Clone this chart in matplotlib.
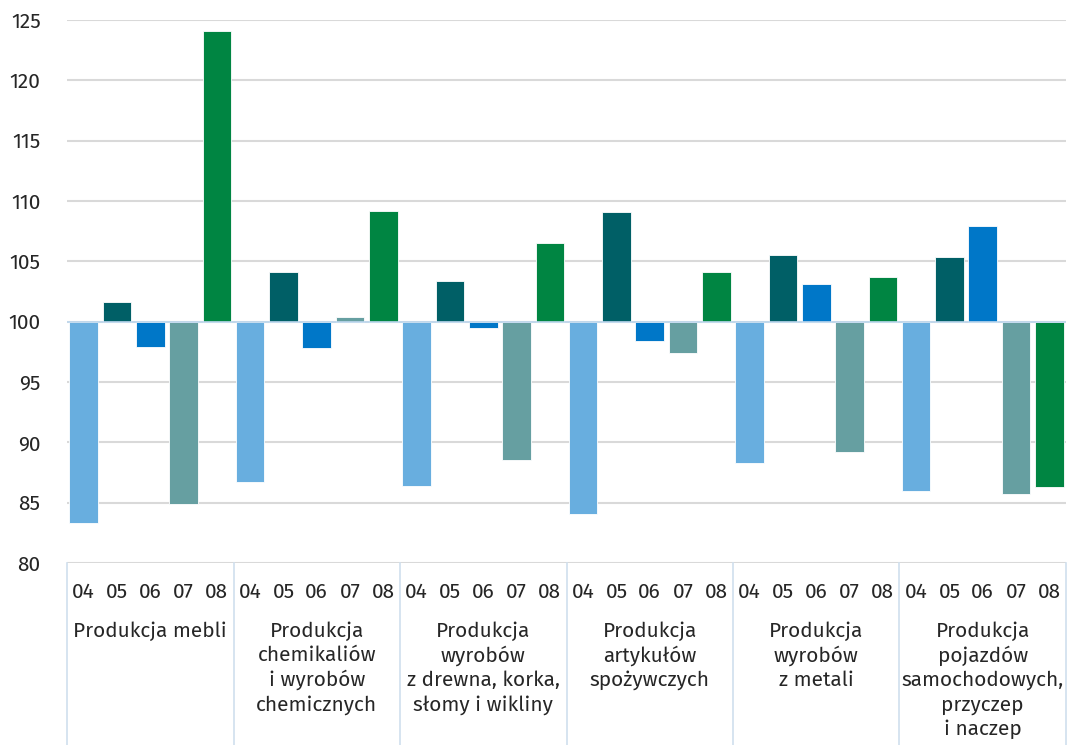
import matplotlib
matplotlib.use("Agg")
import matplotlib.pyplot as plt
import numpy as np

plt.rcParams['font.family'] = ['Fira Sans', 'DejaVu Sans']

groups = [
    "Produkcja mebli",
    "Produkcja\nchemikaliów\ni wyrobów\nchemicznych",
    "Produkcja\nwyrobów\nz drewna, korka,\nsłomy i wikliny",
    "Produkcja\nartykułów\nspożywczych",
    "Produkcja\nwyrobów\nz metali",
    "Produkcja\npojazdów\nsamochodowych,\nprzyczep\ni naczep",
]
months = ["04", "05", "06", "07", "08"]
v04 = [83.3, 86.7, 86.4, 84.1, 88.3, 86.0]
v05 = [101.6, 104.1, 103.4, 109.1, 105.5, 105.4]
v06 = [97.9, 97.8, 99.5, 98.4, 103.1, 107.9]
v07 = [84.9, 100.4, 88.5, 97.4, 89.2, 85.7]
v08 = [124.1, 109.2, 106.5, 104.1, 103.7, 86.3]
series = [v04, v05, v06, v07, v08]
colors = ["#68AEDF", "#005F66", "#0077C8", "#669FA1", "#008542"]

W, H = 1067, 745
fig = plt.figure(figsize=(W / 100, H / 100), dpi=100)
ax = fig.add_axes([67 / W, 1 - 563 / H, (1066 - 67) / W, (563 - 20) / H])

n = len(groups)
for gi in range(n):
    for si, s in enumerate(series):
        x = gi * 5 + si
        ax.bar(x, s[gi] - 100, bottom=100, width=0.86, color=colors[si],
               edgecolor="white", linewidth=0.6, zorder=3)

ax.set_xlim(-0.5, n * 5 - 0.5)
ax.set_ylim(80, 125)
ax.set_yticks(np.arange(80, 126, 5))
ax.yaxis.grid(True, color="#D9D9D9", linewidth=1.5, zorder=0)
ax.axhline(100, color="#BDD7EE", linewidth=1.2, zorder=4)
for sp in ax.spines.values():
    sp.set_visible(False)
ax.tick_params(axis="y", length=0, labelsize=15, pad=19, colors="#262626")
ax.tick_params(axis="x", length=0)
ax.set_xticks([])

trans = ax.get_xaxis_transform()
ah = 563 - 20
for gi in range(n + 1):
    ax.plot([gi * 5 - 0.5] * 2, [0, -(745 - 563) / ah], transform=trans,
            color="#CFDFEE", linewidth=1.2, clip_on=False)
for gi in range(n):
    for si, m in enumerate(months):
        ax.text(gi * 5 + si, -(592 - 563) / ah, m, transform=trans,
                ha="center", va="center", fontsize=15, color="#262626")
    ax.text(gi * 5 + 2, -(621 - 563) / ah, groups[gi], transform=trans,
            ha="center", va="top", fontsize=15, color="#262626",
            linespacing=1.29)

fig.savefig("out.png", dpi=100)
